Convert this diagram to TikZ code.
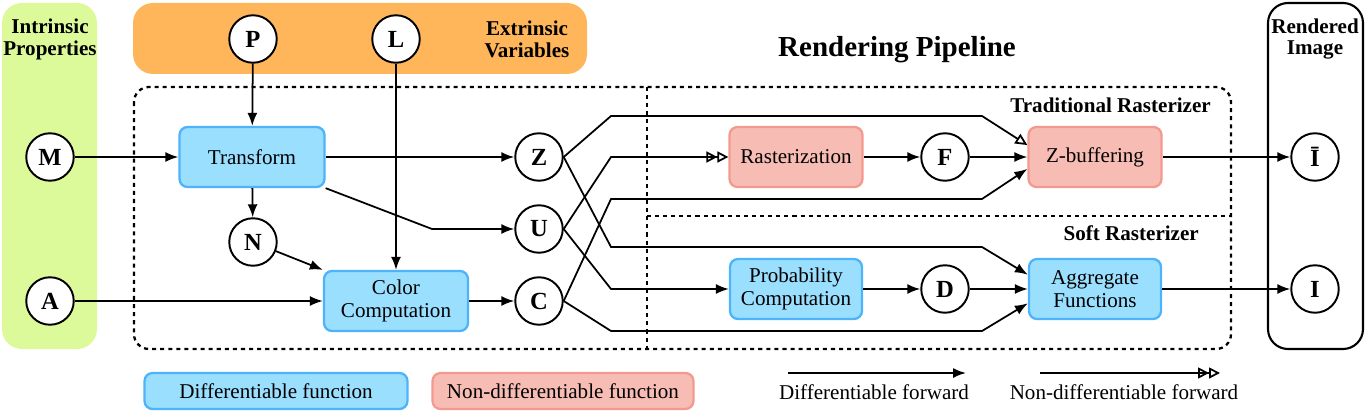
\documentclass[tikz,border=0pt]{standalone}
\usepackage{fontspec}
\setmainfont{Liberation Serif}
\usetikzlibrary{arrows.meta}
\definecolor{difffill}{HTML}{9BDFFF}
\definecolor{diffline}{HTML}{4DB3FA}
\definecolor{ndfill}{HTML}{F7BDB5}
\definecolor{ndline}{HTML}{F39A8E}
\definecolor{intrfill}{HTML}{DDFA9A}
\definecolor{extrfill}{HTML}{FFB65A}

\begin{document}
\begin{tikzpicture}[x=0.02cm, y=-0.02cm,
    font=\fontsize{12}{13}\selectfont,
    func/.style = {draw, line width=1.3pt, rounded corners=0.16cm,
        minimum width=2.66cm, minimum height=1.2cm, align=center},
    diff/.style = {func, fill=difffill, draw=diffline},
    nondiff/.style = {func, fill=ndfill, draw=ndline},
    var/.style = {circle, draw, line width=1.1pt, fill=white,
        minimum size=0.95cm, inner sep=0pt,
        font=\bfseries\fontsize{14}{14}\selectfont},
    title/.style = {font=\bfseries\fontsize{12}{12.5}\selectfont, align=center},
    arr/.style = {-{Latex[length=2.6mm, width=2mm]}, line width=1pt},
    ndarr/.style = {-{Triangle[open, length=2.2mm, width=2.2mm]Triangle[open, length=2.2mm, width=2.2mm]}, line width=1pt},
    ndarrone/.style = {-{Triangle[open, length=2.4mm, width=2.2mm]}, line width=1pt},
    frame/.style = {line width=1.3pt, dash pattern=on 2.3pt off 2.3pt}]
  \useasboundingbox (0,0) rectangle (1366,412);

  % panels
  \fill[intrfill, rounded corners=0.4cm] (2,3) rectangle (97,349);
  \fill[extrfill, rounded corners=0.4cm] (133,3) rectangle (587,74);
  \draw[line width=1.2pt, rounded corners=0.4cm] (1268,3) rectangle (1363,349);
  \node (intr) [title] at (50,39) {Intrinsic\\Properties};
  \node (extr) [title] at (527,39) {Extrinsic\\Variables};
  \node (rend) [title] at (1315,39) {Rendered\\Image};

  % pipeline frames
  \draw[frame, rounded corners=0.3cm] (134,87) rectangle (1231,349);
  \draw[frame] (647,87) -- (647,349);
  \draw[frame] (647,216) -- (1231,216);
  \node (pipe) [font=\bfseries\fontsize{16.5}{17}\selectfont] at (897,50) {Rendering Pipeline};
  \node (trad) [title, anchor=east] at (1217,105) {Traditional Rasterizer};
  \node (soft) [title, anchor=east] at (1205,233) {Soft Rasterizer};

  % variables
  \node (P) [var] at (253,39) {P};
  \node (L) [var] at (396,39) {L};
  \node (M) [var] at (50,157) {M};
  \node (A) [var] at (50,301) {A};
  \node (N) [var] at (253,242) {N};
  \node (Z) [var] at (539,157) {Z};
  \node (U) [var] at (539,229) {U};
  \node (C) [var] at (539,301) {C};
  \node (F) [var] at (945,157) {F};
  \node (D) [var] at (945,289) {D};
  \node (Ibar) [var] at (1315,157) {Ī};
  \node (I) [var] at (1315,289) {I};

  % functions
  \node (transform) [diff, minimum width=2.9cm] at (252,157) {Transform};
  \node (color) [diff, minimum width=2.88cm] at (396,301) {Color\\Computation};
  \node (raster) [nondiff] at (796,157) {Rasterization};
  \node (zbuf) [nondiff] at (1095,157) {Z-buffering};
  \node (prob) [diff, minimum width=2.64cm] at (796,289) {Probability\\Computation};
  \node (aggr) [diff, minimum width=2.64cm] at (1095,289) {Aggregate\\Functions};

  % connectors
  \draw[arr] (P) -- (transform);
  \draw[arr] (M) -- (transform);
  \draw[arr] (L) -- (color);
  \draw[arr] (transform) -- (Z);
  \draw[arr] (transform.south east) -- (432,229) -- (U);
  \draw[arr] (transform) -- (N);
  \draw[arr] (N) -- (color.north west);
  \draw[arr] (A) -- (color);
  \draw[arr] (color) -- (C);
  \draw[ndarrone] (Z.east) -- (611,116) -- (982,116) -- (zbuf.170);
  \draw[arr] (Z.east) -- (611,247) -- (982,247) -- (aggr.168);
  \draw[ndarr] (U.east) -- (611,157) -- (raster);
  \draw[arr] (U.east) -- (611,289) -- (prob);
  \draw[arr] (C.east) -- (611,199) -- (982,199) -- (zbuf.190);
  \draw[arr] (C.east) -- (611,331) -- (982,331) -- (aggr.192);
  \draw[arr] (raster) -- (F);
  \draw[arr] (F) -- (zbuf);
  \draw[arr] (zbuf) -- (Ibar);
  \draw[arr] (prob) -- (D);
  \draw[arr] (D) -- (aggr);
  \draw[arr] (aggr) -- (I);

  % legend
  \node (lgdiff) [diff, minimum width=5.26cm, minimum height=0.72cm] at (276,391) {Differentiable function};
  \node (lgnd) [nondiff, minimum width=5.22cm, minimum height=0.72cm] at (563,391) {Non-differentiable function};
  \coordinate (fwa) at (788,373);
  \coordinate (fwb) at (966,373);
  \coordinate (nfa) at (1040,373);
  \coordinate (nfb) at (1220,373);
  \draw[arr] (fwa) -- (fwb);
  \draw[ndarr] (nfa) -- (nfb);
  \node (fwtext) at (874,392) {Differentiable forward};
  \node (nftext) at (1124,392) {Non-differentiable forward};
\end{tikzpicture}
\end{document}
